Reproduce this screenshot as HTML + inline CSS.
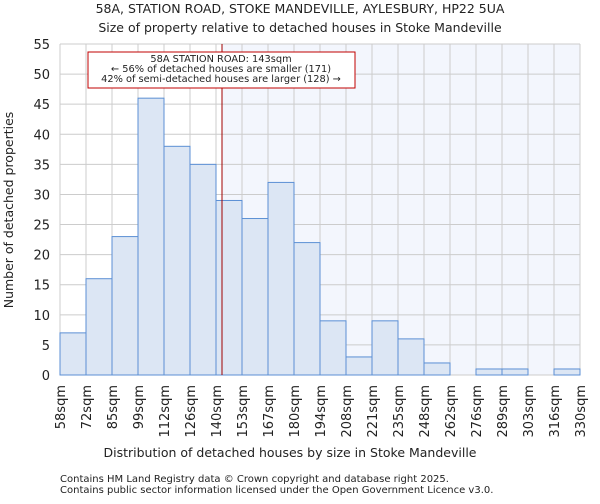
<!DOCTYPE html>
<html><head><meta charset="utf-8"><style>
body{margin:0;background:#fff;font-family:"DejaVu Sans","Liberation Sans",sans-serif}
svg text{font-family:"DejaVu Sans","Liberation Sans",sans-serif;fill:#222}
</style></head><body>
<svg id="c" width="600" height="500">
<text x="300" y="13" text-anchor="middle" font-size="12.5">58A, STATION ROAD, STOKE MANDEVILLE, AYLESBURY, HP22 5UA</text>
<text x="300" y="32" text-anchor="middle" font-size="12.5">Size of property relative to detached houses in Stoke Mandeville</text>
<g id="plot"></g>
<text x="290" y="457" text-anchor="middle" font-size="12.5">Distribution of detached houses by size in Stoke Mandeville</text>
<text transform="translate(13,210) rotate(-90)" text-anchor="middle" font-size="12.5">Number of detached properties</text>
<text x="60" y="482" font-size="10" fill="#444">Contains HM Land Registry data © Crown copyright and database right 2025.</text>
<text x="60" y="493" font-size="10" fill="#444">Contains public sector information licensed under the Open Government Licence v3.0.</text>
</svg>
<script>
const binLabels=["58sqm","72sqm","85sqm","99sqm","112sqm","126sqm","140sqm","153sqm","167sqm","180sqm","194sqm","208sqm","221sqm","235sqm","248sqm","262sqm","276sqm","289sqm","303sqm","316sqm","330sqm"];
const binEdges=[58,72,85,99,112,126,140,153,167,180,194,208,221,235,248,262,276,289,303,316,330];
const counts=[7,16,23,46,38,35,29,26,32,22,9,3,9,6,2,0,1,1,0,1];
const yTicks=[0,5,10,15,20,25,30,35,40,45,50,55];
const propertySize=143;
const L=60,R=580,T=44,B=375,yMax=55;
const NS="http://www.w3.org/2000/svg";
const g=document.getElementById('plot');
const n=counts.length;
const bw=(R-L)/n;
const xi=i=>L+i*bw;
function xv(v){for(let i=0;i<binEdges.length-1;i++){if(v<=binEdges[i+1])return xi(i)+(v-binEdges[i])/(binEdges[i+1]-binEdges[i])*bw;}return R;}
const y=v=>B-v/yMax*(B-T);
function el(t,a,p){const e=document.createElementNS(NS,t);for(const k in a)e.setAttribute(k,a[k]);(p||g).appendChild(e);return e;}
const px=xv(propertySize);
let sh=el('rect',{x:px,y:T,width:R-px,height:B-T,fill:'#f3f6fd'});


yTicks.forEach(t=>{
 let l=el('line',{x1:L,x2:R,y1:y(t),y2:y(t),stroke:'#ccc'});
 
 
 let tx=el('text',{x:L-10,y:y(t)+5,'text-anchor':'end','font-size':'13'});
 tx.textContent=t;
 
 
});
binLabels.forEach((s,i)=>{
 let l=el('line',{x1:xi(i),x2:xi(i),y1:T,y2:B,stroke:'#ccc'});
 
 
 let tx=el('text',{transform:`translate(${xi(i)+5},${B+10}) rotate(-90)`,'text-anchor':'end','font-size':'13'});
 tx.textContent=s;
 
 
});
counts.forEach((c,i)=>{
 if(c<=0)return;
 let r=el('rect',{x:xi(i),y:y(c),width:bw,height:B-y(c),fill:'#dce6f4',stroke:'#5b8fd4','stroke-width':1});
 
 
});
let rl=el('line',{x1:px,x2:px,y1:T,y2:B,stroke:'#a00000','stroke-width':1});


let box=el('rect',{x:88,y:52,width:267,height:36,fill:'#fff',stroke:'#c00000'});


["58A STATION ROAD: 143sqm","← 56% of detached houses are smaller (171)","42% of semi-detached houses are larger (128) →"].forEach((s,i)=>{
 let t=el('text',{x:221,y:62+i*10,'text-anchor':'middle','font-size':'9.8'});
 t.textContent=s;
 
 
});
</script>
</body></html>
